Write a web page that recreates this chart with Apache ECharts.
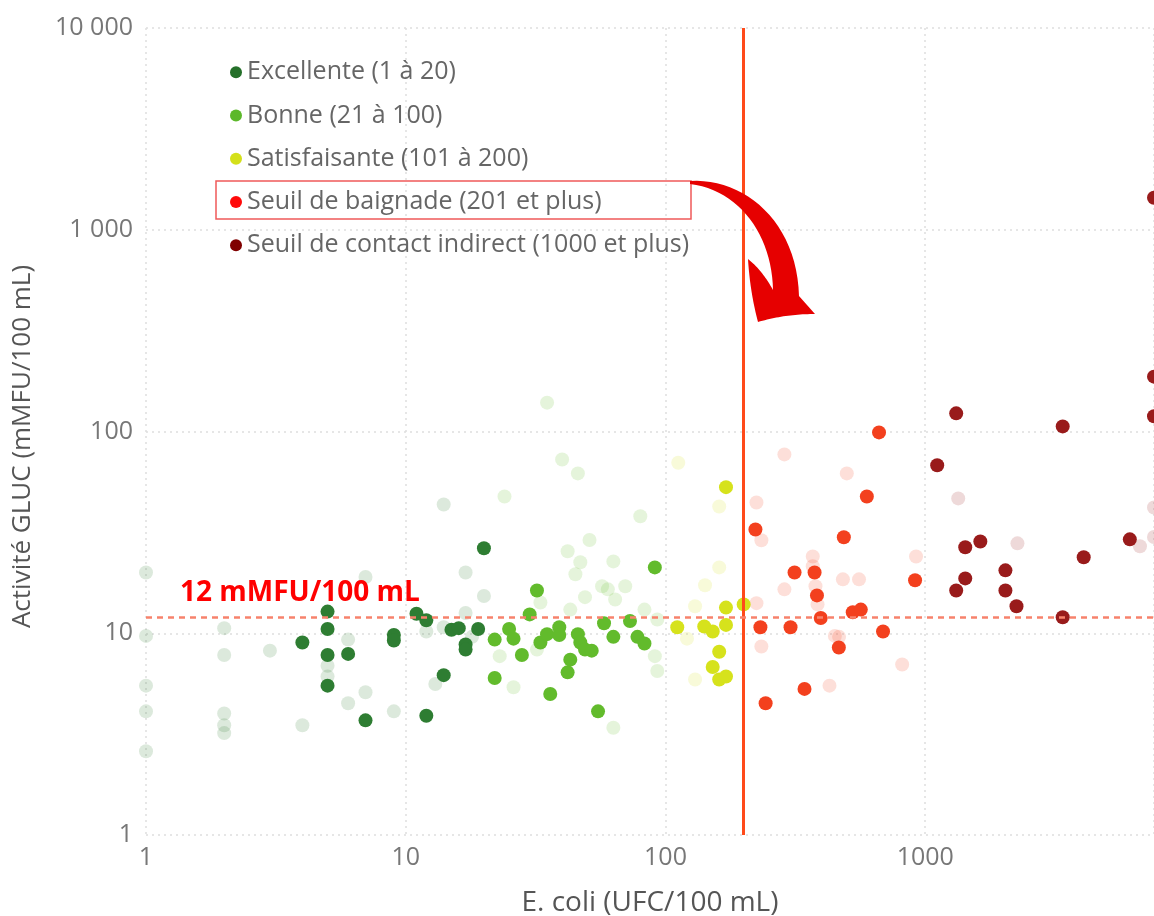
<!DOCTYPE html>
<html lang="fr">
<head>
<meta charset="utf-8">
<title>Activité GLUC vs E. coli</title>
<script src="https://cdn.jsdelivr.net/npm/echarts@6/dist/echarts.min.js"></script>
<style>
  html, body { margin: 0; padding: 0; background: #ffffff; overflow: hidden; }
  #chart { width: 1154px; height: 916px; }
</style>
</head>
<body>
<div id="chart"></div>
<script>
// Classes de qualité (E. coli, UFC/100 mL)
const categories = [
  'Excellente (1 à 20)',
  'Bonne (21 à 100)',
  'Satisfaisante (101 à 200)',
  'Seuil de baignade (201 et plus)',
  'Seuil de contact indirect (1000 et plus)'
];
const categoryLimits = [20, 100, 200, 1000];   // bornes supérieures des classes

// Seuils tracés
const SEUIL_BAIGNADE = 200;   // UFC/100 mL
const SEUIL_GLUC = 12;        // mMFU/100 mL

// Ticks des axes
const xTicks = [1, 10, 100, 1000];
const yTicks = [1, 10, 100, 1000, 10000];
const X_MAX = 7600;

// Échantillons mis en évidence : [E. coli, activité GLUC]
const excellente = [
  [4, 9.0], [5, 12.8], [5, 10.5], [5, 7.8], [5, 5.5], [6, 7.9], [7, 3.7],
  [9, 9.8], [9, 9.2], [11, 12.5], [12, 11.6], [12, 3.9], [14, 6.2],
  [15, 10.4], [16, 10.6], [17, 8.8], [17, 8.3], [19, 10.5], [20, 26.4]
];
const bonne = [
  [22, 9.3], [22, 6.0], [25, 10.5], [26, 9.4], [28, 7.8], [30, 12.4],
  [32, 16.3], [33, 9.0], [35, 9.9], [36, 5.0], [39, 10.7], [39, 9.8],
  [42, 6.4], [43, 7.4], [46, 9.9], [47, 9.0], [49, 8.3], [52, 8.2],
  [55, 4.1], [58, 11.2], [63, 9.6], [73, 11.5], [78, 9.6], [83, 8.9], [91, 21.2]
];
const satisfaisante = [
  [111, 10.7], [141, 10.8], [152, 10.2], [161, 8.1], [152, 6.8], [161, 5.9],
  [171, 6.1], [171, 11.0], [171, 13.4], [171, 53], [200, 13.9]
];
const baignade = [
  [222, 32.7], [232, 10.7], [243, 4.5], [303, 10.7], [314, 20.0], [343, 5.3],
  [375, 20.0], [383, 15.4], [396, 11.9], [465, 8.5], [486, 29.9], [526, 12.7],
  [565, 13.1], [596, 47.6], [664, 99], [688, 10.2], [914, 18.3]
];
const contactIndirect = [
  [1112, 68], [1316, 123], [1316, 16.3], [1426, 26.7], [1426, 18.7],
  [1630, 28.5], [2036, 20.5], [2036, 16.3], [2246, 13.6], [3383, 106],
  [3383, 12.0], [4075, 23.8], [6134, 29.2], [7600, 1440], [7600, 187], [7600, 119]
];

// Autres échantillons (affichés en atténué, classés selon les mêmes bornes)
const autresEchantillons = [
  [1, 20], [1, 9.7], [1, 5.5], [1, 4.1], [1, 2.6],
  [2, 10.6], [2, 7.8], [2, 4.0], [2, 3.5], [2, 3.2],
  [3, 8.2], [4, 3.5], [5, 6.9], [5, 6.1], [6, 9.3], [6, 4.5],
  [7, 19], [7, 5.1], [9, 4.1], [12, 10.2], [13, 5.6], [14, 43.5],
  [14, 10.7], [17, 20], [17, 12.6], [18, 9.6], [20, 15.3],
  [23, 7.7], [24, 47.6], [26, 5.4], [32, 8.3], [33, 14.2], [35, 139],
  [40, 72.7], [42, 25.5], [43, 13.1], [45, 19.6], [46, 62], [47, 22.5],
  [49, 15.1], [51, 29], [57, 17.1], [60, 16.5], [63, 22.7], [63, 3.4],
  [64, 14.7], [70, 17.1], [80, 38], [83, 13.1], [91, 7.7], [93, 6.5], [93, 11.7],
  [112, 70], [121, 9.4], [130, 13.6], [130, 5.9], [142, 17.3], [161, 42.5], [161, 21.2],
  [224, 44.5], [224, 14.1], [234, 28.9], [234, 8.6], [287, 77], [287, 16.5],
  [369, 24], [369, 21.5], [378, 17.1], [385, 13.9], [428, 5.5], [449, 9.7],
  [466, 9.6], [482, 18.5], [499, 62], [556, 18.5], [815, 7.0], [922, 24],
  [1340, 46.6], [2265, 27.9], [6710, 27], [7600, 42], [7600, 30]
];

const colors = ['#2e7d32', '#62bb2c', '#d6e21c', '#f3401e', '#991b1b'];
const legendColors = ['#25702a', '#5cb82a', '#d4e01a', '#ff0a0a', '#800000'];
const highlighted = [excellente, bonne, satisfaisante, baignade, contactIndirect];

function categoryOf(x) {
  for (let i = 0; i < categoryLimits.length; i++) {
    if (x <= categoryLimits[i]) return i;
  }
  return categoryLimits.length;
}

const fadedByCategory = categories.map(() => []);
autresEchantillons.forEach(p => fadedByCategory[categoryOf(p[0])].push(p));

const FONT = '"Open Sans", "Noto Sans", sans-serif';

function thousands(v) {
  return String(Math.round(v)).replace(/\B(?=(\d{3})+(?!\d))/g, ' ');
}

// Contour de la flèche courbe, échantillonné à partir de segments de Bézier
function bezierOutline(start, segments, steps) {
  const pts = [start.slice()];
  let p0 = start;
  segments.forEach(seg => {
    const end = seg[seg.length - 1];
    for (let k = 1; k <= steps; k++) {
      const t = k / steps, u = 1 - t;
      let x, y;
      if (seg.length === 1) {
        x = p0[0] + (end[0] - p0[0]) * t;
        y = p0[1] + (end[1] - p0[1]) * t;
      } else if (seg.length === 2) {
        const c = seg[0];
        x = u * u * p0[0] + 2 * u * t * c[0] + t * t * end[0];
        y = u * u * p0[1] + 2 * u * t * c[1] + t * t * end[1];
      } else {
        const c1 = seg[0], c2 = seg[1];
        x = u * u * u * p0[0] + 3 * u * u * t * c1[0] + 3 * u * t * t * c2[0] + t * t * t * end[0];
        y = u * u * u * p0[1] + 3 * u * u * t * c1[1] + 3 * u * t * t * c2[1] + t * t * t * end[1];
      }
      pts.push([x, y]);
    }
    p0 = end;
  });
  return pts;
}
const arrowPoints = bezierOutline([690, 181], [
  [[745, 178], [797, 222], [799, 296]],
  [[815, 314]],
  [[785, 314], [758, 322]],
  [[750, 292], [748, 259]],
  [[762, 270], [773, 290]],
  [[772, 236], [740, 190], [690, 184]]
], 24);

const series = [];
fadedByCategory.forEach((pts, i) => {
  series.push({
    name: 'autres-' + i,
    type: 'scatter',
    data: pts,
    symbolSize: 14,
    silent: true,
    itemStyle: { color: colors[i], opacity: 0.17 },
    z: 1
  });
});
highlighted.forEach((pts, i) => {
  series.push({
    name: categories[i],
    type: 'scatter',
    data: pts,
    symbolSize: 14,
    itemStyle: { color: colors[i], opacity: 1 },
    z: 3
  });
});
// Seuils : E. coli 200 (trait plein) et GLUC 12 (tirets)
series.push({
  name: 'seuils',
  type: 'scatter',
  data: [],
  silent: true,
  z: 2,
  markLine: {
    silent: true,
    symbol: 'none',
    animation: false,
    emphasis: { disabled: true },
    data: [
      {
        xAxis: SEUIL_BAIGNADE,
        lineStyle: { color: '#ff4a1a', width: 3, type: 'solid', opacity: 1 },
        label: { show: false }
      },
      {
        yAxis: SEUIL_GLUC,
        lineStyle: { color: '#f7826c', width: 2.5, type: [6, 5], opacity: 1 },
        label: {
          show: true,
          position: 'insideStartTop',
          formatter: SEUIL_GLUC + ' mMFU/100 mL',
          color: '#ff0000',
          fontFamily: FONT,
          fontWeight: 'bold',
          fontSize: 28,
          distance: [34, 10]
        }
      }
    ]
  }
});

const chart = echarts.init(document.getElementById('chart'), null, { renderer: 'canvas' });
chart.setOption({
  backgroundColor: '#ffffff',
  animation: false,
  grid: {
    left: 146, right: 0, top: 28, bottom: 81,
    containLabel: false,
    outerBoundsMode: 'none'
  },
  legend: {
    orient: 'vertical',
    left: 225,
    top: 54,
    itemWidth: 12,
    itemHeight: 12,
    itemGap: 17,
    icon: 'circle',
    selectedMode: false,
    textStyle: { fontFamily: FONT, fontSize: 25, color: '#666666', lineHeight: 26.3 },
    data: categories.map((c, i) => ({ name: c, itemStyle: { color: legendColors[i] } }))
  },
  xAxis: {
    type: 'log',
    logBase: 10,
    min: xTicks[0],
    max: X_MAX,
    name: 'E. coli (UFC/100 mL)',
    nameLocation: 'middle',
    nameGap: 54,
    nameTextStyle: { fontFamily: FONT, fontSize: 28, color: '#555555' },
    axisLine: { show: false },
    axisTick: { show: false },
    axisLabel: {
      fontFamily: FONT, fontSize: 25, color: '#777777', margin: 10,
      formatter: v => (xTicks.includes(Math.round(v)) ? String(Math.round(v)) : '')
    },
    splitLine: { show: true, lineStyle: { color: '#dedede', width: 1.5, type: [2, 4] } }
  },
  yAxis: {
    type: 'log',
    logBase: 10,
    min: yTicks[0],
    max: yTicks[yTicks.length - 1],
    name: 'Activité GLUC (mMFU/100 mL)',
    nameLocation: 'middle',
    nameGap: 110,
    nameTextStyle: { fontFamily: FONT, fontSize: 26, color: '#555555', padding: [0, 30, 0, 0] },
    axisLine: { show: false },
    axisTick: { show: false },
    axisLabel: {
      fontFamily: FONT, fontSize: 25, color: '#777777', margin: 13,
      formatter: v => (yTicks.includes(Math.round(v)) ? thousands(v) : '')
    },
    splitLine: { show: true, lineStyle: { color: '#dedede', width: 1.5, type: [2, 4] } }
  },
  graphic: [
    {
      type: 'rect',
      z: 100,
      silent: true,
      shape: { x: 216, y: 181, width: 475, height: 38 },
      style: { fill: 'none', stroke: '#ef5a5a', lineWidth: 1.5 }
    },
    {
      type: 'polygon',
      z: 100,
      silent: true,
      shape: { points: arrowPoints },
      style: { fill: '#e60000' }
    }
  ],
  series: series
});
</script>
</body>
</html>
